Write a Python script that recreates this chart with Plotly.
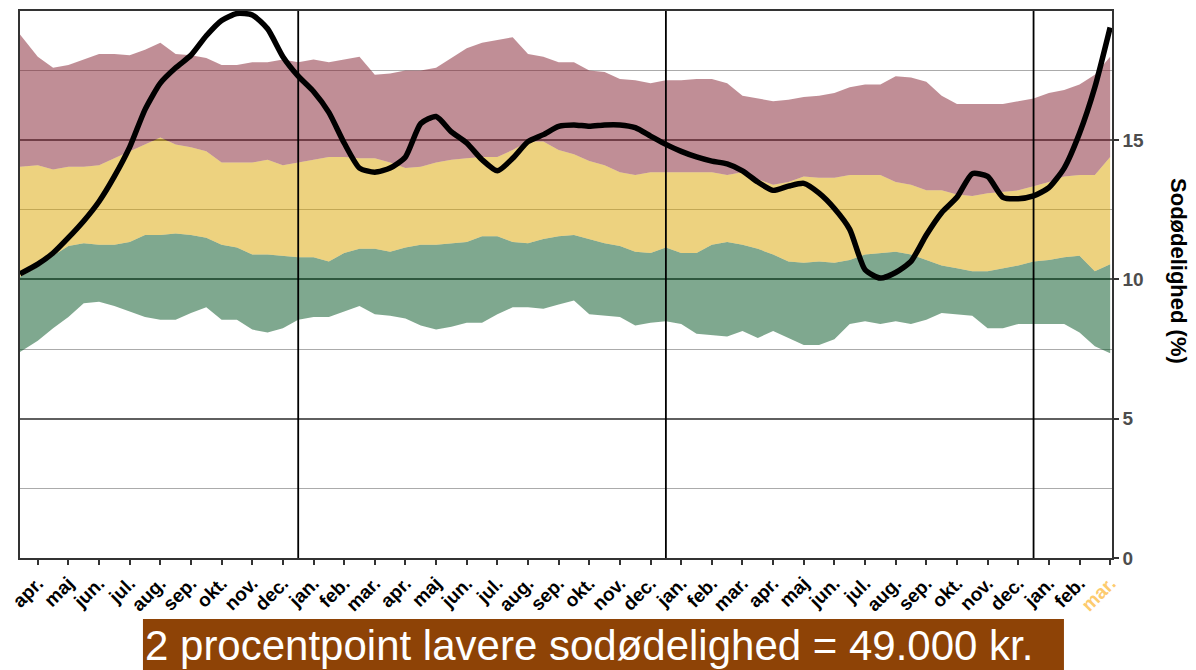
import numpy as np
import plotly.graph_objects as go

# month labels, three seasons apr -> mar
labels = ["apr.", "maj", "jun.", "jul.", "aug.", "sep.", "okt.", "nov.", "dec.",
          "jan.", "feb.", "mar.", "apr.", "maj", "jun.", "jul.", "aug.", "sep.", "okt.", "nov.", "dec.",
          "jan.", "feb.", "mar.", "apr.", "maj", "jun.", "jul.", "aug.", "sep.", "okt.", "nov.", "dec.",
          "jan.", "feb.", "mar."]

# half-month steps; the first point sits at the left edge, a bit before the first april
x = np.r_[-0.58, np.arange(0, 35.01, 0.5)]

red_top = [18.8, 18.0, 17.6, 17.7, 17.9, 18.1, 18.1, 18.05, 18.25, 18.5, 18.1, 18.05, 17.95, 17.7, 17.7, 17.8,
           17.8, 17.9, 17.8, 17.9, 17.8, 17.9, 18.0, 17.35, 17.4, 17.5, 17.5, 17.6, 17.95, 18.3, 18.5, 18.6,
           18.7, 18.1, 18.0, 17.8, 17.8, 17.5, 17.45, 17.2, 17.15, 17.05, 17.15, 17.15, 17.2, 17.2, 17.05, 16.6,
           16.5, 16.4, 16.45, 16.55, 16.6, 16.7, 16.9, 17.0, 17.0, 17.3, 17.25, 17.1, 16.6, 16.3, 16.3, 16.3,
           16.3, 16.4, 16.5, 16.7, 16.8, 17.0, 17.35, 18.0]

red_low = [14.05, 14.1, 13.95, 14.05, 14.05, 14.1, 14.35, 14.6, 14.85, 15.1, 14.85, 14.75, 14.6, 14.2, 14.2, 14.2,
           14.3, 14.1, 14.2, 14.3, 14.4, 14.4, 14.35, 14.35, 14.2, 14.0, 14.05, 14.2, 14.3, 14.35, 14.4, 14.4,
           14.65, 14.95, 14.95, 14.65, 14.5, 14.25, 14.1, 13.85, 13.75, 13.85, 13.85, 13.85, 13.85, 13.85, 13.75, 13.85,
           13.6, 13.4, 13.5, 13.7, 13.65, 13.65, 13.75, 13.75, 13.75, 13.5, 13.4, 13.2, 13.2, 13.05, 13.0, 13.1,
           13.15, 13.2, 13.35, 13.5, 13.7, 13.75, 13.75, 14.4]

green_top = [10.1, 10.45, 10.85, 11.2, 11.3, 11.25, 11.25, 11.35, 11.6, 11.6, 11.65, 11.6, 11.5, 11.25, 11.15, 10.9,
             10.9, 10.85, 10.8, 10.8, 10.65, 10.95, 11.1, 11.1, 11.0, 11.15, 11.25, 11.25, 11.3, 11.35, 11.55, 11.55,
             11.35, 11.3, 11.45, 11.55, 11.6, 11.45, 11.3, 11.2, 11.0, 10.95, 11.15, 10.95, 10.95, 11.25, 11.35, 11.25,
             11.1, 10.9, 10.65, 10.6, 10.65, 10.6, 10.7, 10.9, 10.95, 11.0, 10.9, 10.7, 10.5, 10.4, 10.3, 10.3,
             10.4, 10.5, 10.65, 10.7, 10.8, 10.85, 10.3, 10.55]

green_low = [7.4, 7.8, 8.25, 8.65, 9.15, 9.2, 9.05, 8.85, 8.65, 8.55, 8.55, 8.8, 9.0, 8.55, 8.55, 8.2,
             8.1, 8.25, 8.55, 8.65, 8.65, 8.85, 9.05, 8.75, 8.7, 8.6, 8.35, 8.2, 8.3, 8.45, 8.45, 8.75,
             9.0, 9.0, 8.95, 9.1, 9.25, 8.75, 8.7, 8.65, 8.35, 8.45, 8.5, 8.4, 8.05, 8.0, 7.95, 8.15,
             7.9, 8.15, 7.9, 7.65, 7.65, 7.85, 8.4, 8.5, 8.4, 8.5, 8.4, 8.55, 8.8, 8.75, 8.7, 8.25,
             8.25, 8.4, 8.4, 8.4, 8.4, 8.1, 7.6, 7.35]

sodoed = [10.2, 10.55, 10.95, 11.5, 12.1, 12.8, 13.7, 14.75, 16.1, 17.05, 17.6, 18.05, 18.75, 19.3, 19.55, 19.5,
          19.0, 18.0, 17.3, 16.75, 16.0, 14.9, 14.0, 13.85, 14.0, 14.4, 15.6, 15.85, 15.3, 14.9, 14.3, 13.9,
          14.35, 14.95, 15.2, 15.5, 15.55, 15.5, 15.55, 15.55, 15.45, 15.15, 14.85, 14.6, 14.4, 14.25, 14.15, 13.9,
          13.5, 13.2, 13.35, 13.45, 13.1, 12.55, 11.8, 10.35, 10.05, 10.25, 10.65, 11.6, 12.4, 12.95, 13.8, 13.7,
          12.95, 12.9, 13.0, 13.3, 14.0, 15.25, 16.9, 19.05]

ticktext = labels[:-1] + ['<span style="color:#FDCB6E">' + labels[-1] + '</span>']
year_breaks = [i - 0.5 for i, l in enumerate(labels) if l == "jan."]

fig = go.Figure()
fig.add_trace(go.Scatter(x=x, y=green_low, mode='lines', line=dict(width=0), hoverinfo='skip'))
fig.add_trace(go.Scatter(x=x, y=green_top, mode='lines', line=dict(width=0), fill='tonexty',
                         fillcolor='rgba(0,81,31,0.5)'))
fig.add_trace(go.Scatter(x=x, y=red_low, mode='lines', line=dict(width=0), fill='tonexty',
                         fillcolor='rgba(219,165,0,0.5)'))
fig.add_trace(go.Scatter(x=x, y=red_top, mode='lines', line=dict(width=0), fill='tonexty',
                         fillcolor='rgba(129,29,45,0.5)'))
fig.add_trace(go.Scatter(x=x, y=sodoed, mode='lines', line=dict(color='black', width=5.5, shape='spline', smoothing=0.6)))

for xb in year_breaks:
    fig.add_shape(type='line', xref='x', yref='paper', x0=xb, x1=xb, y0=0, y1=1,
                  line=dict(color='black', width=1.8))

# banner below the chart
fig.add_shape(type='rect', xref='paper', yref='paper', x0=0.1126, x1=0.956, y0=-0.2048, y1=-0.1115,
              fillcolor='#8E4306', line=dict(width=0))
fig.add_annotation(text='2 procentpoint lavere sodødelighed = 49.000 kr.', xref='paper', yref='paper',
                   x=0.1126, y=-0.160, xanchor='left', yanchor='middle', showarrow=False,
                   font=dict(family='Liberation Sans, Arial, sans-serif', size=42, color='white'))

fig.add_annotation(text='<b>Sodødelighed (%)</b>', xref='paper', yref='paper', x=1.0604, y=0.5247,
                   xanchor='center', yanchor='middle', textangle=90, showarrow=False,
                   font=dict(size=22, color='black'))

# page body adds an 8px offset, so the figure is 8px smaller than the window
fig.update_layout(
    width=1188, height=662,
    margin=dict(l=12, r=84, t=3, b=112, autoexpand=False),
    plot_bgcolor='white', paper_bgcolor='white',
    showlegend=False,
    font=dict(family='Liberation Sans, Arial, sans-serif'),
)
fig.update_xaxes(range=[-0.58, 35.06], tickvals=list(range(len(labels))), ticktext=ticktext, tickangle=-45,
                 ticks='outside', ticklen=5, tickcolor='#333', tickwidth=1.5, automargin=False,
                 ticklabeloverflow='allow',
                 tickfont=dict(size=19, color='black', weight='bold'),
                 showgrid=False, showline=True, linecolor='#333', linewidth=1.5, mirror=True, zeroline=False)
fig.update_yaxes(range=[0, 19.64], side='right', tickvals=[0, 5, 10, 15],
                 ticks='outside', ticklen=5, tickcolor='#333', tickwidth=1.5, automargin=False,
                 tickfont=dict(size=19, color='#4d4d4d', weight='bold'),
                 showgrid=True, gridcolor='#5f5f5f', gridwidth=1.5,
                 minor=dict(tickvals=[2.5, 7.5, 12.5, 17.5], showgrid=True, gridcolor='#ababab', gridwidth=1.2),
                 showline=True, linecolor='#333', linewidth=1.5, mirror=True, zeroline=False)

fig.write_html("out.html")
